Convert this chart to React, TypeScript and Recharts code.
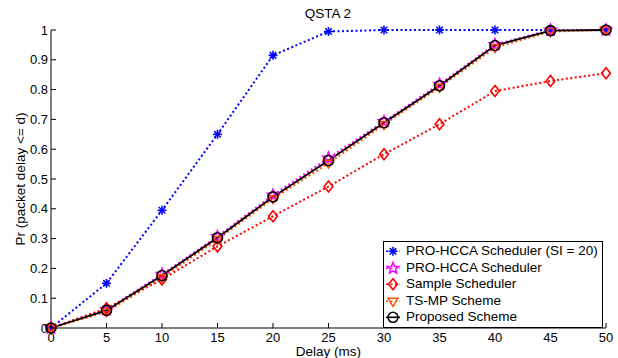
import React from 'react';
import { LineChart, Line, XAxis, YAxis, Legend } from 'recharts';

// Delay (ms) on the x axis
const delay = [0, 5, 10, 15, 20, 25, 30, 35, 40, 45, 50];

// Pr (packet delay <= d) per scheme
const proHccaSi20 = [0, 0.15, 0.395, 0.65, 0.915, 0.995, 1, 1, 1, 1, 1];
const proHcca = [0, 0.062, 0.18, 0.307, 0.446, 0.57, 0.693, 0.818, 0.951, 1, 1];
const sampleSched = [0, 0.066, 0.163, 0.274, 0.375, 0.475, 0.583, 0.684, 0.795, 0.829, 0.855];
const tsMp = [0, 0.054, 0.169, 0.297, 0.434, 0.553, 0.683, 0.808, 0.941, 0.995, 1];
const proposed = [0, 0.059, 0.176, 0.303, 0.44, 0.562, 0.689, 0.813, 0.948, 0.998, 1];

const xTicks = [0, 5, 10, 15, 20, 25, 30, 35, 40, 45, 50];
const yTicks = [0, 0.1, 0.2, 0.3, 0.4, 0.5, 0.6, 0.7, 0.8, 0.9, 1];

const FONT = 'Liberation Sans, Arial, Helvetica, sans-serif';

const data = delay.map((d, i) => ({
  delay: d,
  si20: proHccaSi20[i],
  proHcca: proHcca[i],
  sample: sampleSched[i],
  tsmp: tsMp[i],
  proposed: proposed[i],
}));

type Kind = 'star' | 'penta' | 'diamond' | 'tri' | 'circle';

const Marker = ({ kind, cx, cy, color }: { kind: Kind; cx: number; cy: number; color: string }) => {
  if (kind === 'star') {
    const r = 4.5;
    const d = r * 0.72;
    return (
      <g stroke={color} strokeWidth={1.6}>
        <line x1={cx - r} y1={cy} x2={cx + r} y2={cy} />
        <line x1={cx} y1={cy - r} x2={cx} y2={cy + r} />
        <line x1={cx - d} y1={cy - d} x2={cx + d} y2={cy + d} />
        <line x1={cx - d} y1={cy + d} x2={cx + d} y2={cy - d} />
      </g>
    );
  }
  if (kind === 'penta') {
    const pts: string[] = [];
    for (let k = 0; k < 10; k++) {
      const r = k % 2 === 0 ? 6 : 2.6;
      const a = -Math.PI / 2 + (k * Math.PI) / 5;
      pts.push(`${cx + r * Math.cos(a)},${cy + r * Math.sin(a)}`);
    }
    return <polygon points={pts.join(' ')} fill="none" stroke={color} strokeWidth={1.5} />;
  }
  if (kind === 'diamond') {
    const r = 5.5;
    return (
      <polygon
        points={`${cx},${cy - r} ${cx + r * 0.8},${cy} ${cx},${cy + r} ${cx - r * 0.8},${cy}`}
        fill="none"
        stroke={color}
        strokeWidth={1.6}
      />
    );
  }
  if (kind === 'tri') {
    const r = 5;
    return (
      <polygon
        points={`${cx - r},${cy - r * 0.6} ${cx + r},${cy - r * 0.6} ${cx},${cy + r}`}
        fill="none"
        stroke={color}
        strokeWidth={1.5}
      />
    );
  }
  return <circle cx={cx} cy={cy} r={5} fill="none" stroke={color} strokeWidth={1.6} />;
};

const series = [
  { key: 'si20', name: 'PRO-HCCA Scheduler (SI = 20)', color: '#0000ff', kind: 'star' as Kind, dash: '2 2.5' },
  { key: 'proHcca', name: 'PRO-HCCA Scheduler', color: '#ff00ff', kind: 'penta' as Kind, dash: '2 2.5' },
  { key: 'sample', name: 'Sample Scheduler', color: '#ff0000', kind: 'diamond' as Kind, dash: '2 2.5' },
  { key: 'tsmp', name: 'TS-MP Scheme', color: '#ff4d00', kind: 'tri' as Kind, dash: '2 2.5' },
  { key: 'proposed', name: 'Proposed Scheme', color: '#000000', kind: 'circle' as Kind, dash: undefined },
];

const BottomTick = ({ x, y, payload }: any) => (
  <g>
    <line x1={x} x2={x} y1={y} y2={y - 5} stroke="#000" />
    <text x={x} y={y + 14} textAnchor="middle" fontSize={13} fontFamily={FONT} fill="#000">
      {payload.value}
    </text>
  </g>
);

const LeftTick = ({ x, y, payload }: any) => (
  <g>
    <line x1={x} x2={x + 5} y1={y} y2={y} stroke="#000" />
    <text x={x - 3} y={y + 4.5} textAnchor="end" fontSize={13} fontFamily={FONT} fill="#000">
      {payload.value}
    </text>
  </g>
);

const TopTick = ({ x, y }: any) => <line x1={x} x2={x} y1={y} y2={y + 5} stroke="#000" />;
const RightTick = ({ x, y }: any) => <line x1={x} x2={x - 5} y1={y} y2={y} stroke="#000" />;

const LegendBox = () => (
  <div
    style={{
      border: '1px solid #000',
      background: '#fff',
      padding: '1px 4px 1px 1px',
      fontFamily: FONT,
      fontSize: 13.5,
      lineHeight: '16.6px',
      color: '#000',
      whiteSpace: 'nowrap',
    }}
  >
    {series.map((s) => (
      <div key={s.key} style={{ display: 'flex', alignItems: 'center' }}>
        <svg width={20} height={16.6} style={{ marginRight: 1 }}>
          <line x1={1} x2={15} y1={8.3} y2={8.3} stroke={s.color} strokeWidth={1.6} strokeDasharray={s.dash} />
          <Marker kind={s.kind} cx={8} cy={8.3} color={s.color} />
        </svg>
        <span>{s.name}</span>
      </div>
    ))}
  </div>
);

export default function App() {
  return (
    <div style={{ position: 'absolute', left: 0, top: 0, width: 618, height: 358, background: '#fff' }}>
      <LineChart width={618} height={358} data={data} margin={{ top: 30, right: 12, bottom: 0, left: 0 }}>
        <text x={328} y={18} textAnchor="middle" fontSize={13.5} fontFamily={FONT}>
          QSTA 2
        </text>
        <XAxis
          xAxisId="b"
          dataKey="delay"
          type="number"
          domain={[0, 50]}
          ticks={xTicks}
          height={30}
          tickSize={0}
          tickMargin={0}
          tickLine={false}
          axisLine={{ stroke: '#000' }}
          tick={<BottomTick />}
          interval={0}
          label={{ value: 'Delay (ms)', position: 'insideBottom', offset: 2, fontSize: 13.5, fontFamily: FONT, fill: '#000' }}
        />
        <XAxis
          xAxisId="t"
          orientation="top"
          dataKey="delay"
          type="number"
          domain={[0, 50]}
          ticks={xTicks}
          height={0}
          tickSize={0}
          tickMargin={0}
          tickLine={false}
          axisLine={{ stroke: '#000' }}
          tick={<TopTick />}
          interval={0}
        />
        <YAxis
          yAxisId="l"
          type="number"
          domain={[0, 1]}
          ticks={yTicks}
          width={51}
          tickSize={0}
          tickMargin={0}
          tickLine={false}
          axisLine={{ stroke: '#000' }}
          tick={<LeftTick />}
          interval={0}
          label={{
            value: 'Pr (packet delay <= d)',
            angle: -90,
            position: 'insideLeft',
            offset: 20,
            style: { textAnchor: 'middle' },
            fontSize: 13.5,
            fontFamily: FONT,
            fill: '#000',
          }}
        />
        <YAxis
          yAxisId="r"
          orientation="right"
          type="number"
          domain={[0, 1]}
          ticks={yTicks}
          width={0}
          tickSize={0}
          tickMargin={0}
          tickLine={false}
          axisLine={{ stroke: '#000' }}
          tick={<RightTick />}
          interval={0}
        />
        {series.map((s) => (
          <Line
            key={s.key}
            xAxisId="b"
            yAxisId="l"
            type="linear"
            dataKey={s.key}
            name={s.name}
            stroke={s.color}
            strokeWidth={s.dash ? 2 : 1.8}
            strokeDasharray={s.dash}
            isAnimationActive={false}
            dot={(p: any) => <Marker key={`${s.key}-${p.index}`} kind={s.kind} cx={p.cx} cy={p.cy} color={s.color} />}
            activeDot={false}
          />
        ))}
        <Legend
          layout="vertical"
          align="center"
          verticalAlign="middle"
          content={<LegendBox />}
          wrapperStyle={{ left: 383, top: 241, width: 'auto' }}
        />
      </LineChart>
    </div>
  );
}
